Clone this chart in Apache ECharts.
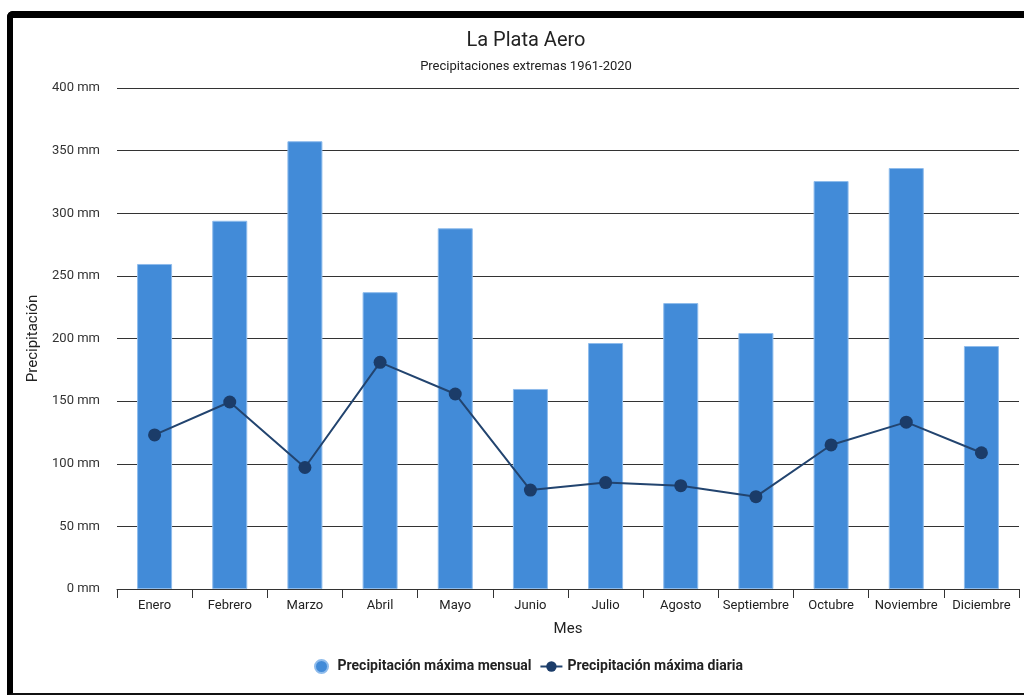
<!DOCTYPE html>
<html>
<head>
<meta charset="utf-8">
<script src="https://cdn.jsdelivr.net/npm/echarts@6/dist/echarts.min.js"></script>
<style>
html,body{margin:0;padding:0;background:#fff;width:1024px;height:697px;overflow:hidden;}
#chart{position:absolute;left:0;top:0;width:1024px;height:697px;}
#frame{position:absolute;left:7px;top:11px;width:1040px;height:684px;border-left:6px solid #000;border-top:7px solid #000;border-bottom:2px solid #111;border-top-left-radius:6px;pointer-events:none;box-sizing:border-box;}
</style>
</head>
<body>
<div id="chart"></div>
<div id="frame"></div>
<script>
var categories = ['Enero','Febrero','Marzo','Abril','Mayo','Junio','Julio','Agosto','Septiembre','Octubre','Noviembre','Diciembre'];
var maxMensual = [259.5, 294, 357.5, 237, 288, 159.7, 196.4, 228.3, 204.4, 325.7, 336.1, 194];
var maxDiaria = [123, 149.3, 97, 181, 155.7, 79, 85, 82.5, 73.7, 115, 133.2, 108.8];

var chart = echarts.init(document.getElementById('chart'));
chart.setOption({
  animation: false,
  textStyle: {fontFamily: 'Roboto'},
  title: {
    text: 'La Plata Aero',
    subtext: 'Precipitaciones extremas 1961-2020',
    left: 521,
    textAlign: 'center',
    top: 26,
    itemGap: 9,
    textStyle: {fontSize: 20, fontWeight: 'normal', color: '#222', fontFamily: 'Roboto'},
    subtextStyle: {fontSize: 13, color: '#222', fontFamily: 'Roboto'}
  },
  legend: {
    bottom: 18,
    left: 309,
    itemGap: 8,
    itemWidth: 22,
    itemHeight: 13,
    textStyle: {fontSize: 14, fontWeight: 'bold', color: '#222', fontFamily: 'Roboto'},
    data: [
      {name: 'Precipitación máxima mensual', icon: 'circle'},
      {name: 'Precipitación máxima diaria'}
    ]
  },
  grid: {left: 117, right: 5, top: 88, bottom: 108, containLabel: false},
  xAxis: {
    type: 'category',
    data: categories,
    name: 'Mes',
    nameLocation: 'middle',
    nameGap: 33,
    nameTextStyle: {fontSize: 15, color: '#222'},
    axisLine: {lineStyle: {color: '#333', width: 1}},
    axisTick: {show: true, length: 9, lineStyle: {color: '#333'}},
    axisLabel: {fontSize: 13, color: '#222', margin: 10, interval: 0}
  },
  yAxis: {
    type: 'value',
    min: 0,
    max: 400,
    interval: 50,
    name: 'Precipitación',
    nameLocation: 'middle',
    nameGap: 72,
    nameTextStyle: {fontSize: 15, color: '#222'},
    axisLine: {show: false},
    axisTick: {show: false},
    axisLabel: {formatter: '{value} mm', fontSize: 13, color: '#333', margin: 17},
    splitLine: {lineStyle: {color: '#333', width: 1}}
  },
  series: [
    {
      name: 'Precipitación máxima mensual',
      type: 'bar',
      data: maxMensual,
      barWidth: 35,
      itemStyle: {color: '#428bd8', borderColor: '#8fbcec', borderWidth: 1}
    },
    {
      name: 'Precipitación máxima diaria',
      type: 'line',
      data: maxDiaria,
      symbol: 'circle',
      symbolSize: 13,
      lineStyle: {color: '#22446f', width: 2},
      itemStyle: {color: '#1b3c69'}
    }
  ]
});
</script>
</body>
</html>
